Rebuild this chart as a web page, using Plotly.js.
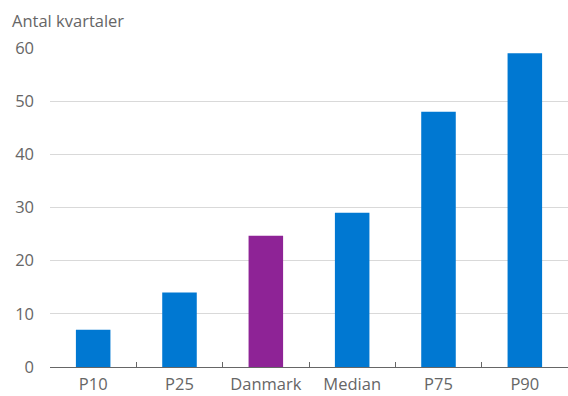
<!DOCTYPE html>
<html>
<head>
<meta charset="utf-8">
<script src="https://cdn.plot.ly/plotly-3.0.1.min.js"></script>
<style>
  html, body { margin: 0; padding: 0; background: #fff; }
  #chart { width: 568px; height: 396px; }
</style>
</head>
<body>
<div id="chart"></div>
<script>
// Antal kvartaler for percentiler og Danmark
const categories = ["P10", "P25", "Danmark", "Median", "P75", "P90"];
const values = [7, 14, 24.7, 29, 48, 59];
const barColors = ["#0078d2", "#0078d2", "#8e2396", "#0078d2", "#0078d2", "#0078d2"];
const yTicks = [0, 10, 20, 30, 40, 50, 60];
const yTitle = "Antal kvartaler";

const textColor = "#666666";
const fontFamily = "'Open Sans', 'Noto Sans', sans-serif";
const fontSize = 16.5;

Plotly.newPlot("chart", [{
  type: "bar",
  x: categories,
  y: values,
  width: 0.4,
  marker: { color: barColors, line: { width: 0 } },
  hoverinfo: "none"
}], {
  width: 568,
  height: 396,
  margin: { l: 50, r: 0, t: 48, b: 29, pad: 0 },
  paper_bgcolor: "#fff",
  plot_bgcolor: "#fff",
  showlegend: false,
  font: { family: fontFamily, size: fontSize, color: textColor },
  xaxis: {
    type: "category",
    showline: true,
    linecolor: "#666666",
    linewidth: 1,
    ticks: "inside",
    tickson: "boundaries",
    ticklen: 5,
    tickcolor: "#666666",
    showgrid: false,
    ticklabelstandoff: 2,
    tickfont: { family: fontFamily, size: fontSize, color: textColor },
    fixedrange: true
  },
  yaxis: {
    range: [0, 60],
    tickvals: yTicks,
    ticktext: yTicks.map(String),
    showgrid: true,
    gridcolor: "#d9d9d9",
    gridwidth: 1,
    zeroline: false,
    showline: false,
    ticks: "",
    ticklabelstandoff: 15,
    tickfont: { family: fontFamily, size: fontSize, color: textColor },
    fixedrange: true
  },
  annotations: [{
    text: yTitle,
    xref: "paper", yref: "paper",
    x: -40 / 518, y: 1,
    xanchor: "left", yanchor: "middle",
    yshift: 28,
    showarrow: false,
    font: { family: fontFamily, size: fontSize, color: textColor }
  }]
}, { displayModeBar: false, staticPlot: true });
</script>
</body>
</html>
